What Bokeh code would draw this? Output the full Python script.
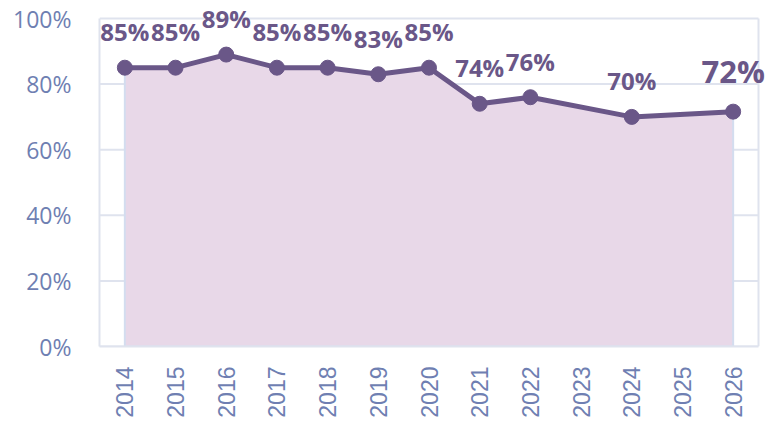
import math
from bokeh.plotting import figure
from bokeh.models import FixedTicker, Range1d, CustomJSTickFormatter, ColumnDataSource
from bokeh.embed import file_html
from bokeh.resources import INLINE
from bokeh.core.properties import value

years = [2014, 2015, 2016, 2017, 2018, 2019, 2020, 2021, 2022, 2024, 2026]
values = [85, 85, 89, 85, 85, 83, 85, 74, 76, 70, 71.6]
labels = ["85%", "85%", "89%", "85%", "85%", "83%", "85%", "74%", "76%", "70%", "72%"]
tick_years = list(range(2014, 2027))
y_ticks = [0, 20, 40, 60, 80, 100]

PURPLE = "#6a5788"
FILL = "#e8d8e8"
GRID = "#dfe3ee"
TICK = "#6f7fb2"

# frame from y=4 to y=346; 100% at y=18 -> 3.28 px per unit
y_top = 100 + 14 / 3.28
# frame from x=99 to x=765; plot box ends at x=758 (2026.5)
px_per_year = 659 / 13
x_lo, x_box = tick_years[0] - 0.5, tick_years[-1] + 0.5
x_hi = x_box + 7 / px_per_year

p = figure(width=765, height=424, output_backend="svg", toolbar_location=None,
           x_range=Range1d(x_lo, x_hi), y_range=Range1d(0, y_top),
           min_border_left=99, min_border_right=0, min_border_top=4, min_border_bottom=78)

p.outline_line_color = None
p.xgrid.grid_line_color = None
p.ygrid.grid_line_color = None

# horizontal gridlines and right border limited to the plot box
p.segment(x0=[x_lo] * len(y_ticks), x1=[x_box] * len(y_ticks), y0=y_ticks, y1=y_ticks,
          line_color=GRID, line_width=2)
p.segment(x0=[x_box], x1=[x_box], y0=[y_ticks[0]], y1=[y_ticks[-1]], line_color=GRID, line_width=2)

# area
px = [years[0]] + years + [years[-1]]
py = [0] + values + [0]
p.patch(px, py, fill_color=FILL, line_color="#d3ddef", line_width=2)

p.line(years, values, line_color=PURPLE, line_width=5)
p.scatter(years, values, size=15, fill_color=PURPLE, line_color=PURPLE)

src = ColumnDataSource(dict(x=years[:-1], y=values[:-1], t=labels[:-1]))
p.text(x="x", y="y", text="t", source=src, text_align="center", text_baseline="alphabetic",
       y_offset=-36, text_font=value("Open Sans"), text_font_style="bold",
       text_font_size="24px", text_color=PURPLE)
src2 = ColumnDataSource(dict(x=years[-1:], y=values[-1:], t=labels[-1:]))
p.text(x="x", y="y", text="t", source=src2, text_align="center", text_baseline="alphabetic",
       y_offset=-41, text_font=value("Open Sans"), text_font_style="bold",
       text_font_size="31px", text_color=PURPLE)

p.yaxis.ticker = FixedTicker(ticks=y_ticks)
p.yaxis.formatter = CustomJSTickFormatter(code="return tick + '%';")
p.yaxis.bounds = (0, 100)
p.xaxis.ticker = FixedTicker(ticks=tick_years)
p.xaxis.bounds = (x_lo, x_box)
p.xaxis.major_label_orientation = math.pi / 2

for ax in (p.xaxis[0], p.yaxis[0]):
    ax.axis_line_color = GRID
    ax.axis_line_width = 2
    ax.major_tick_line_color = None
    ax.minor_tick_line_color = None
    ax.major_label_text_color = TICK

p.yaxis.major_label_text_font = "Open Sans"
p.yaxis.major_label_text_font_size = "23px"
p.yaxis.major_label_standoff = 22
p.xaxis.major_label_text_font = "Liberation Sans"
p.xaxis.major_label_text_font_size = "23px"
p.xaxis.major_label_standoff = 14

open("out.html", "w").write(file_html(p, INLINE))
